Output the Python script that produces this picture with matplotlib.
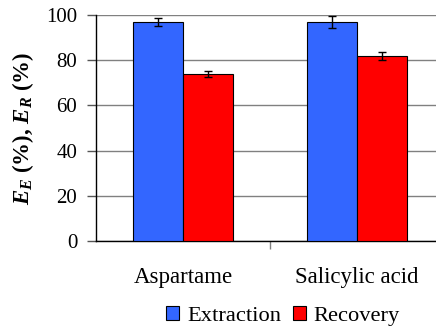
import matplotlib
matplotlib.use("Agg")
import matplotlib.pyplot as plt
from matplotlib.font_manager import FontProperties
import numpy as np

categories = ["Aspartame", "Salicylic acid"]
extraction = [97, 97]
extraction_err = [1.7, 2.6]
recovery = [74, 82]
recovery_err = [1.3, 1.8]
yticks = [0, 20, 40, 60, 80, 100]

SERIF = "Liberation Serif"
plt.rcParams["font.family"] = [SERIF]
plt.rcParams["mathtext.fontset"] = "custom"
plt.rcParams["mathtext.rm"] = "Liberation Serif:bold"
plt.rcParams["mathtext.it"] = "Liberation Serif:italic:bold"

fig = plt.figure(figsize=(4.36, 3.28), dpi=100)
ax = fig.add_axes([96 / 436, 0.265, 348 / 436, 0.689])

x = np.arange(len(categories))
w = 0.287
ax.bar(x - w / 2, extraction, w, color="#3366FF", edgecolor="black", linewidth=0.8,
       yerr=extraction_err, capsize=2.9, error_kw=dict(elinewidth=1, capthick=1),
       label="Extraction", zorder=3)
ax.bar(x + w / 2, recovery, w, color="#FF0000", edgecolor="black", linewidth=0.8,
       yerr=recovery_err, capsize=2.9, error_kw=dict(elinewidth=1, capthick=1),
       label="Recovery", zorder=3)

ax.set_xlim(-0.5, 1.5)
ax.set_ylim(0, 100)
ax.set_yticks(yticks)
ax.set_yticklabels([str(v) for v in yticks], family=SERIF, fontsize=15)
ax.tick_params(axis="y", length=6.5, width=1, color="#555555", pad=7)
ax.yaxis.grid(True, color="#808080", linewidth=1, zorder=0)
ax.set_axisbelow(True)

ax.set_xticks([0.5])
ax.set_xticklabels([""])
ax.tick_params(axis="x", length=6, width=1, color="#808080")
for xi, name in zip(x, categories):
    ax.text(xi, -0.16, name, transform=ax.get_xaxis_transform(), ha="center", va="center",
            fontsize=16.5, family=SERIF)

for s in ["top", "right"]:
    ax.spines[s].set_visible(False)
ax.spines["left"].set_linewidth(1)
ax.spines["bottom"].set_linewidth(1)

ax.set_ylabel("$E_E$ (%), $E_R$ (%)", fontsize=16.5, fontweight="bold", family=SERIF,
              labelpad=7)

fig.legend(loc="center", bbox_to_anchor=(283 / 436, 1 - 316 / 328), ncol=2, frameon=False,
           prop=FontProperties(family=SERIF, size=16.2), handlelength=0.6, handleheight=0.6,
           handletextpad=0.35, columnspacing=0.5, borderpad=0)

fig.savefig("out.png", dpi=100)
